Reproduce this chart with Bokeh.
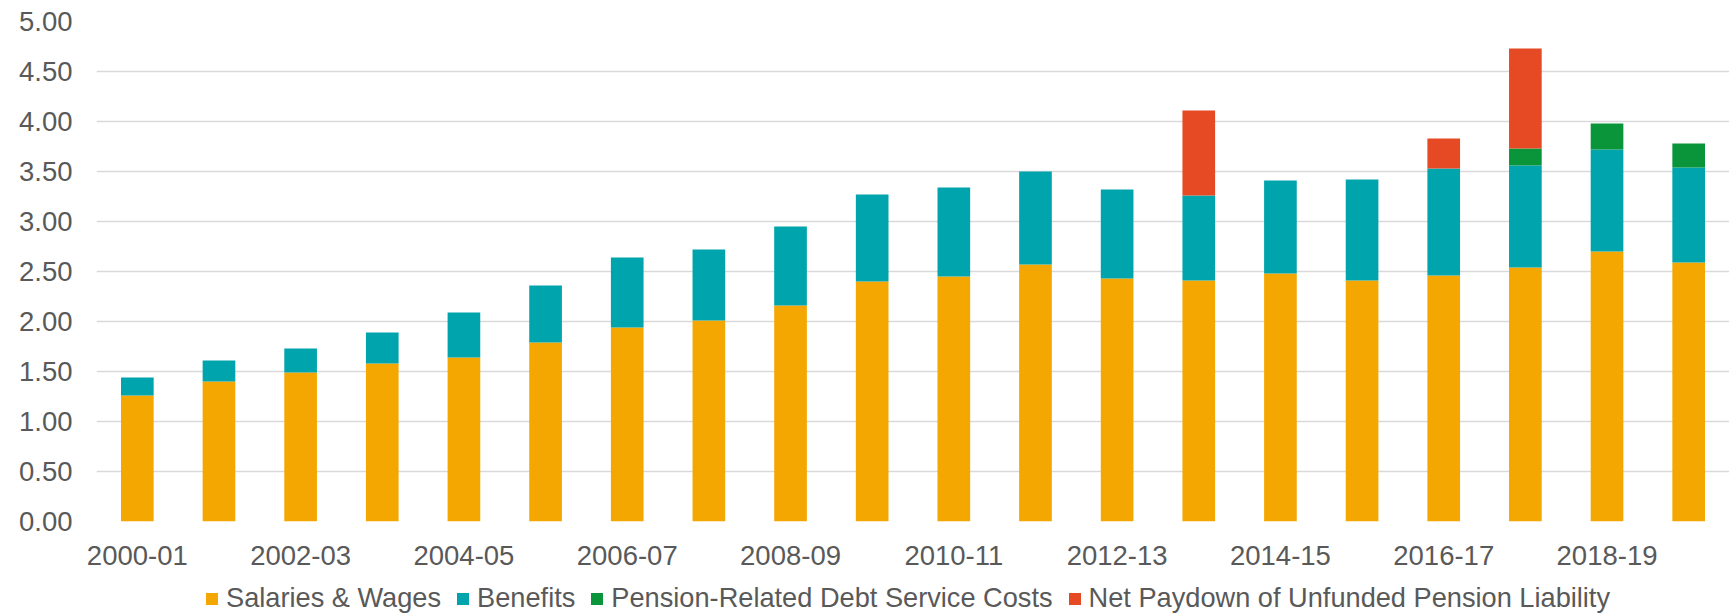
from bokeh.plotting import figure
from bokeh.layouts import column
from bokeh.models import Range1d, FixedTicker, Legend, LegendItem, ColumnDataSource, NumeralTickFormatter
from bokeh.embed import file_html
from bokeh.resources import INLINE

years = ["2000-01", "2001-02", "2002-03", "2003-04", "2004-05", "2005-06", "2006-07",
         "2007-08", "2008-09", "2009-10", "2010-11", "2011-12", "2012-13", "2013-14",
         "2014-15", "2015-16", "2016-17", "2017-18", "2018-19", "2019-20"]
salaries = [1.26, 1.40, 1.49, 1.58, 1.64, 1.79, 1.94, 2.01, 2.16, 2.40,
            2.45, 2.57, 2.43, 2.41, 2.48, 2.41, 2.46, 2.54, 2.70, 2.59]
benefits = [0.18, 0.21, 0.24, 0.31, 0.45, 0.57, 0.70, 0.71, 0.79, 0.87,
            0.89, 0.93, 0.89, 0.85, 0.93, 1.01, 1.07, 1.02, 1.02, 0.95]
pension_debt = [0, 0, 0, 0, 0, 0, 0, 0, 0, 0,
                0, 0, 0, 0, 0, 0, 0, 0.17, 0.26, 0.24]
net_paydown = [0, 0, 0, 0, 0, 0, 0, 0, 0, 0,
               0, 0, 0, 0.85, 0, 0, 0.30, 1.00, 0, 0]
series_names = ["Salaries & Wages", "Benefits", "Pension-Related Debt Service Costs",
                "Net Paydown of Unfunded Pension Liability"]
colors = ["#F4A700", "#00A4AC", "#0A953A", "#E54A24"]
y_ticks = [0, 0.5, 1.0, 1.5, 2.0, 2.5, 3.0, 3.5, 4.0, 4.5, 5.0]

keys = ["s", "b", "p", "n"]
source = ColumnDataSource(dict(x=list(range(len(years))), s=salaries, b=benefits,
                               p=pension_debt, n=net_paydown))

FONT = "Liberation Sans"
GRAY = "#595959"

# ---- main chart ----
p = figure(width=1729, height=580, output_backend="svg", toolbar_location=None,
           x_range=Range1d(-0.5, len(years) - 0.5), y_range=Range1d(0, 5))
p.min_border_left = 96
p.min_border_right = 0
p.min_border_top = 21
p.min_border_bottom = 59
p.outline_line_color = None
p.background_fill_color = "white"
p.border_fill_color = "white"

p.vbar_stack(keys, x="x", width=0.4, color=colors, line_color=None, source=source)

p.xaxis.ticker = FixedTicker(ticks=list(range(0, len(years), 2)))
p.xaxis.major_label_overrides = {i: years[i] for i in range(0, len(years), 2)}
p.yaxis.ticker = FixedTicker(ticks=y_ticks)
p.yaxis.formatter = NumeralTickFormatter(format="0.00")
for ax in (p.xaxis, p.yaxis):
    ax.axis_line_color = None
    ax.major_tick_line_color = None
    ax.minor_tick_line_color = None
    ax.major_tick_out = 0
    ax.major_tick_in = 0
    ax.major_label_text_font = FONT
    ax.major_label_text_font_size = "27.5px"
    ax.major_label_text_color = GRAY
p.yaxis.major_label_standoff = 24
p.xaxis.major_label_standoff = 24

p.xgrid.grid_line_color = None
p.ygrid.grid_line_color = "#D9D9D9"
p.ygrid.grid_line_width = 1.5

# ---- legend strip below the chart (same stacked series, kept out of view) ----
lg = figure(width=1729, height=34, output_backend="svg", toolbar_location=None,
            x_axis_type=None, y_axis_type=None, min_border=0,
            x_range=Range1d(-0.5, len(years) - 0.5), y_range=Range1d(50, 51))
lg.outline_line_color = None
lg.grid.visible = False
swatches = lg.vbar_stack(keys, x="x", width=0.4, color=colors, line_color=None, source=source)

legend = Legend(items=[LegendItem(label=n, renderers=[r], index=0) for n, r in zip(series_names, swatches)],
                location=(108, 0), orientation="horizontal", padding=0, margin=0,
                spacing=14, label_standoff=7, glyph_width=15, glyph_height=15,
                label_text_font=FONT, label_text_font_size="27.2px",
                label_text_color=GRAY, border_line_color=None, background_fill_alpha=0)
lg.add_layout(legend, "center")

layout = column(p, lg, spacing=0)
open("out.html", "w").write(file_html(layout, INLINE))
